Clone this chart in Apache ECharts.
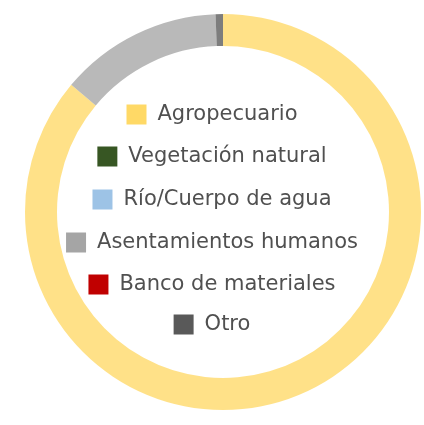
<!DOCTYPE html>
<html>
<head>
<meta charset="utf-8">
<script src="https://cdn.jsdelivr.net/npm/echarts@6/dist/echarts.min.js"></script>
<style>
  html, body { margin: 0; padding: 0; background: #ffffff; }
  #chart { width: 424px; height: 425px; }
</style>
</head>
<body>
<div id="chart"></div>
<script>
// Land-use categories and their share (%)
const categories = ['Agropecuario', 'Vegetación natural', 'Río/Cuerpo de agua', 'Asentamientos humanos', 'Banco de materiales', 'Otro'];
const shares = [86.1, 0, 0, 13.3, 0, 0.6];
const colors = ['#FFD966', '#375623', '#9DC3E6', '#A5A5A5', '#C00000', '#595959'];

const chart = echarts.init(document.getElementById('chart'));

// one centred legend line per category
const legendTops = [99, 141, 184, 227, 269, 309];
const legends = categories.map((name, i) => ({
  data: [name],
  left: 'center',
  top: legendTops[i],
  orient: 'vertical',
  icon: 'rect',
  itemWidth: 20,
  itemHeight: 20,
  itemStyle: { opacity: 1 },
  selectedMode: false,
  textStyle: {
    fontFamily: 'DejaVu Sans',
    fontSize: 21,
    color: '#505050',
    padding: [0, 0, 0, 6]
  }
}));

chart.setOption({
  animation: false,
  backgroundColor: '#ffffff',
  legend: legends,
  series: [{
    type: 'pie',
    center: [223, 212],
    radius: [166, 198],
    startAngle: 90,
    clockwise: true,
    label: { show: false },
    labelLine: { show: false },
    emphasis: { disabled: true },
    itemStyle: { opacity: 0.78, borderWidth: 0 },
    data: categories.map((name, i) => ({
      name: name,
      value: shares[i],
      itemStyle: { color: colors[i] }
    }))
  }]
});
</script>
</body>
</html>
